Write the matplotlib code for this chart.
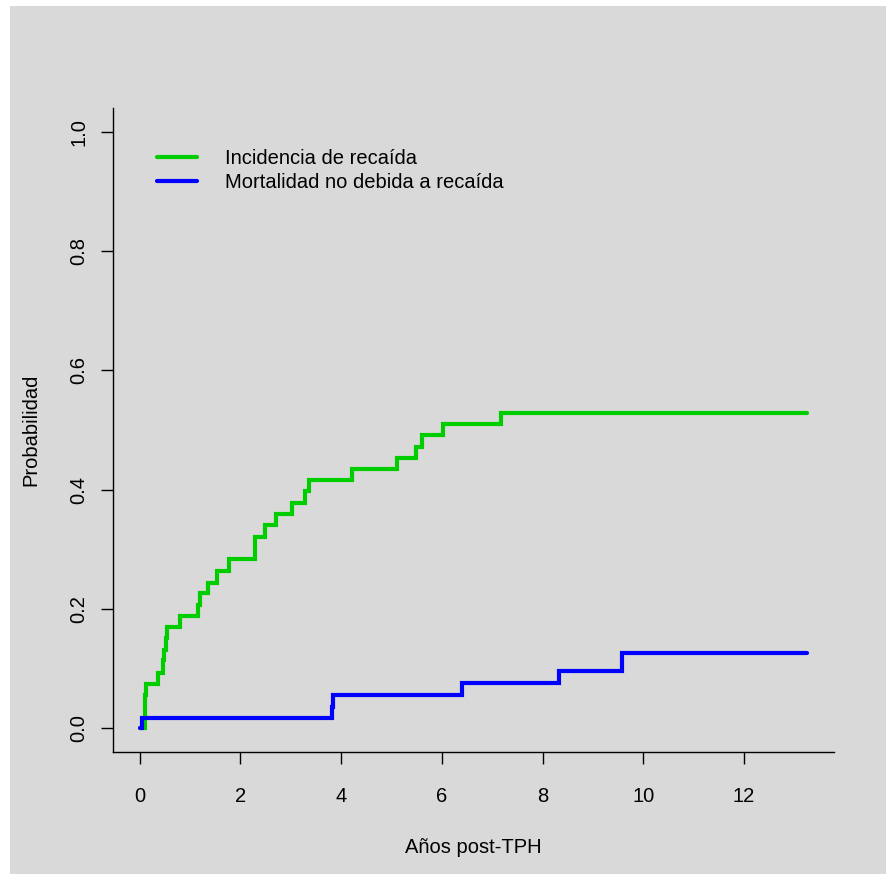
import numpy as np
import matplotlib
matplotlib.use('Agg')
import matplotlib.pyplot as plt
from matplotlib.patches import Rectangle

# step curves (time in years, cumulative probability)
relapse_t = [0, 0.11, 0.13, 0.37, 0.47, 0.49, 0.52, 0.54, 0.80, 1.16, 1.21,
             1.36, 1.53, 1.78, 2.29, 2.50, 2.70, 3.02, 3.29, 3.37, 4.21,
             5.11, 5.48, 5.60, 6.02, 7.18, 13.26]
relapse_p = [0, 0.055, 0.074, 0.092, 0.114, 0.131, 0.151, 0.170, 0.188,
             0.206, 0.226, 0.244, 0.263, 0.283, 0.320, 0.340, 0.359, 0.377,
             0.397, 0.416, 0.434, 0.453, 0.472, 0.492, 0.510, 0.528, 0.528]

nrm_t = [0, 0.04, 3.82, 3.85, 6.41, 8.33, 9.58, 13.26]
nrm_p = [0, 0.017, 0.036, 0.056, 0.075, 0.096, 0.126, 0.126]

labels = ["Incidencia de recaída", "Mortalidad no debida a recaída"]
colors = ["#00cd00", "#0000ff"]
xticks = [0, 2, 4, 6, 8, 10, 12]
yticks = [0.0, 0.2, 0.4, 0.6, 0.8, 1.0]

plt.rcParams['font.family'] = ['Liberation Sans', 'DejaVu Sans']
plt.rcParams['font.size'] = 14.5

W, H = 887, 874
fig = plt.figure(figsize=(W / 100, H / 100), dpi=100, facecolor='white')
# grey panel (image has a thin white strip at left and top)
fig.patches.append(Rectangle((10 / W, 0), 1 - 10 / W, 1 - 6 / H,
                             transform=fig.transFigure, facecolor='#d9d9d9',
                             edgecolor='none', zorder=-10))

ax = fig.add_axes([112.8 / W, (H - 751.8) / H, 721.4 / W, 643.6 / H])
ax.set_facecolor('none')
ax.set_zorder(5)

ax.step(relapse_t, relapse_p, where='post', color=colors[0], lw=3,
        solid_capstyle='round', solid_joinstyle='miter', label=labels[0])
ax.step(nrm_t, nrm_p, where='post', color=colors[1], lw=3,
        solid_capstyle='round', solid_joinstyle='miter', label=labels[1])

ax.set_xlim(-0.5304, 13.7904)
ax.set_ylim(-0.04, 1.04)
ax.set_xticks(xticks)
ax.set_xticklabels([str(v) for v in xticks])
ax.set_yticks(yticks)
ax.set_yticklabels(["%.1f" % v for v in yticks], rotation=90, va='center')

for s in ['top', 'right']:
    ax.spines[s].set_visible(False)
for s in ['left', 'bottom']:
    ax.spines[s].set_linewidth(1.0)
ax.tick_params(axis='both', direction='out', length=8.6, width=1.0,
               color='black')
ax.tick_params(axis='x', pad=17)
ax.tick_params(axis='y', pad=9)

ax.set_xlabel("Años post-TPH", va='center')
ax.xaxis.set_label_coords(0.5, -0.148)
ax.set_ylabel("Probabilidad", va='center', ha='center')
ax.yaxis.set_label_coords(-0.1134, 0.5)

ax.legend(loc='upper left', bbox_to_anchor=(157 / W, 1 - 149 / H),
          bbox_transform=fig.transFigure, frameon=False, handlelength=2.0,
          handletextpad=1.4, labelspacing=0.25, borderpad=0,
          borderaxespad=0)

fig.savefig('out.png', dpi=100, facecolor='white')
